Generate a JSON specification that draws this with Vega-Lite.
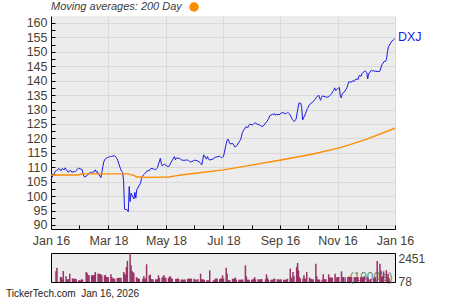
{
  "$schema": "https://vega.github.io/schema/vega-lite/v6.json",
  "background": "white",
  "padding": {"left": 5, "top": 2, "right": 5, "bottom": 0},
  "spacing": 4,
  "config": {
    "font": "Liberation Sans",
    "view": {"stroke": null},
    "axis": {"labelFont": "Liberation Sans", "labelColor": "#4a4030", "labelFontSize": 12.5, "tickColor": "#000000", "domainColor": "#000000", "gridColor": "#d9d9d9"}
  },
  "resolve": {"scale": {"x": "independent", "y": "independent", "color": "independent"}},
  "data": {
    "values": [
      {"d":"2025-01-16","c":105.6,"v":900},{"d":"2025-01-17","c":106.5,"v":1210},
      {"d":"2025-01-21","c":108.8,"v":420},{"d":"2025-01-22","c":108.9,"v":400},{"d":"2025-01-23","c":109.1,"v":230},{"d":"2025-01-24","c":109.6,"v":930},
      {"d":"2025-01-27","c":108.8,"v":480},{"d":"2025-01-28","c":109.6,"v":230},{"d":"2025-01-29","c":109.3,"v":220},{"d":"2025-01-30","c":109.1,"v":240},{"d":"2025-01-31","c":109.8,"v":705},
      {"d":"2025-02-03","c":108.3,"v":300},{"d":"2025-02-04","c":108.5,"v":280},{"d":"2025-02-05","c":108.7,"v":260},{"d":"2025-02-06","c":108.9,"v":280},{"d":"2025-02-07","c":108.3,"v":250},
      {"d":"2025-02-10","c":108.5,"v":150},{"d":"2025-02-11","c":108.5,"v":140},{"d":"2025-02-12","c":108.9,"v":120},{"d":"2025-02-13","c":109.4,"v":230},{"d":"2025-02-14","c":109.7,"v":200},
      {"d":"2025-02-18","c":109.2,"v":845},{"d":"2025-02-19","c":107.8,"v":760},{"d":"2025-02-20","c":106.8,"v":560},{"d":"2025-02-21","c":106.6,"v":600},
      {"d":"2025-02-24","c":107.3,"v":560},{"d":"2025-02-25","c":107.8,"v":580},{"d":"2025-02-26","c":108.1,"v":540},{"d":"2025-02-27","c":108.2,"v":620},{"d":"2025-02-28","c":108.1,"v":845},
      {"d":"2025-03-03","c":108.5,"v":700},{"d":"2025-03-04","c":109.1,"v":700},{"d":"2025-03-05","c":108.3,"v":650},{"d":"2025-03-06","c":108.6,"v":660},{"d":"2025-03-07","c":107.8,"v":580},
      {"d":"2025-03-10","c":106.4,"v":560},{"d":"2025-03-11","c":108.3,"v":600},{"d":"2025-03-12","c":110.2,"v":420},{"d":"2025-03-13","c":111.8,"v":400},{"d":"2025-03-14","c":112.7,"v":420},
      {"d":"2025-03-17","c":113.4,"v":650},{"d":"2025-03-18","c":113.5,"v":420},{"d":"2025-03-19","c":113.6,"v":280},{"d":"2025-03-20","c":113.7,"v":300},{"d":"2025-03-21","c":113.7,"v":280},
      {"d":"2025-03-24","c":114.0,"v":340},{"d":"2025-03-25","c":113.8,"v":330},{"d":"2025-03-26","c":113.5,"v":350},{"d":"2025-03-27","c":113.0,"v":340},{"d":"2025-03-28","c":112.2,"v":360},
      {"d":"2025-03-31","c":109.2,"v":845},{"d":"2025-04-01","c":108.6,"v":700},{"d":"2025-04-02","c":108.2,"v":600},{"d":"2025-04-03","c":105.5,"v":1270},{"d":"2025-04-04","c":95.5,"v":1780},
      {"d":"2025-04-07","c":95.2,"v":2451},{"d":"2025-04-08","c":94.6,"v":1410},{"d":"2025-04-09","c":103.3,"v":930},{"d":"2025-04-10","c":98.1,"v":845},{"d":"2025-04-11","c":101.0,"v":760},
      {"d":"2025-04-14","c":99.0,"v":420},{"d":"2025-04-15","c":101.3,"v":280},{"d":"2025-04-16","c":99.3,"v":300},{"d":"2025-04-17","c":102.2,"v":260},
      {"d":"2025-04-21","c":104.5,"v":280},{"d":"2025-04-22","c":106.0,"v":480},{"d":"2025-04-23","c":106.8,"v":300},{"d":"2025-04-24","c":107.3,"v":280},{"d":"2025-04-25","c":107.6,"v":1500},
      {"d":"2025-04-28","c":108.7,"v":565},{"d":"2025-04-29","c":108.9,"v":620},{"d":"2025-04-30","c":108.7,"v":250},{"d":"2025-05-01","c":109.2,"v":225},{"d":"2025-05-02","c":109.6,"v":230},
      {"d":"2025-05-05","c":109.4,"v":220},{"d":"2025-05-06","c":109.2,"v":225},{"d":"2025-05-07","c":109.1,"v":230},{"d":"2025-05-08","c":109.5,"v":565},{"d":"2025-05-09","c":109.9,"v":350},
      {"d":"2025-05-12","c":113.1,"v":350},{"d":"2025-05-13","c":111.4,"v":480},{"d":"2025-05-14","c":110.5,"v":560},{"d":"2025-05-15","c":110.7,"v":350},{"d":"2025-05-16","c":111.1,"v":360},
      {"d":"2025-05-19","c":110.4,"v":340},{"d":"2025-05-20","c":110.3,"v":460},{"d":"2025-05-21","c":110.2,"v":470},{"d":"2025-05-22","c":110.8,"v":280},{"d":"2025-05-23","c":111.5,"v":300},
      {"d":"2025-05-27","c":113.7,"v":280},{"d":"2025-05-28","c":112.6,"v":250},{"d":"2025-05-29","c":113.2,"v":300},{"d":"2025-05-30","c":113.2,"v":260},
      {"d":"2025-06-02","c":113.0,"v":200},{"d":"2025-06-03","c":112.6,"v":210},{"d":"2025-06-04","c":112.5,"v":190},{"d":"2025-06-05","c":112.4,"v":200},{"d":"2025-06-06","c":112.4,"v":210},
      {"d":"2025-06-09","c":112.5,"v":280},{"d":"2025-06-10","c":112.5,"v":260},{"d":"2025-06-11","c":112.3,"v":280},{"d":"2025-06-12","c":112.0,"v":300},{"d":"2025-06-13","c":111.8,"v":270},
      {"d":"2025-06-16","c":112.2,"v":280},{"d":"2025-06-17","c":112.4,"v":200},{"d":"2025-06-18","c":112.4,"v":210},{"d":"2025-06-20","c":112.3,"v":230},
      {"d":"2025-06-23","c":111.7,"v":705},{"d":"2025-06-24","c":111.2,"v":230},{"d":"2025-06-25","c":110.8,"v":220},{"d":"2025-06-26","c":112.5,"v":200},{"d":"2025-06-27","c":114.3,"v":200},
      {"d":"2025-06-30","c":112.8,"v":150},{"d":"2025-07-01","c":113.7,"v":140},{"d":"2025-07-02","c":113.0,"v":130},{"d":"2025-07-03","c":112.5,"v":990},
      {"d":"2025-07-07","c":112.8,"v":140},{"d":"2025-07-08","c":113.2,"v":140},{"d":"2025-07-09","c":113.4,"v":280},{"d":"2025-07-10","c":113.5,"v":280},{"d":"2025-07-11","c":113.6,"v":300},
      {"d":"2025-07-14","c":113.8,"v":250},{"d":"2025-07-15","c":113.5,"v":280},{"d":"2025-07-16","c":113.3,"v":300},{"d":"2025-07-17","c":113.5,"v":565},{"d":"2025-07-18","c":113.7,"v":300},
      {"d":"2025-07-21","c":118.3,"v":1210},{"d":"2025-07-22","c":119.5,"v":700},{"d":"2025-07-23","c":119.7,"v":150},{"d":"2025-07-24","c":118.8,"v":140},{"d":"2025-07-25","c":118.1,"v":140},
      {"d":"2025-07-28","c":118.2,"v":280},{"d":"2025-07-29","c":117.6,"v":250},{"d":"2025-07-30","c":117.0,"v":300},{"d":"2025-07-31","c":117.2,"v":370},{"d":"2025-08-01","c":117.4,"v":200},
      {"d":"2025-08-04","c":119.0,"v":180},{"d":"2025-08-05","c":119.5,"v":200},{"d":"2025-08-06","c":120.5,"v":200},{"d":"2025-08-07","c":122.0,"v":190},{"d":"2025-08-08","c":122.6,"v":210},
      {"d":"2025-08-11","c":124.1,"v":1410},{"d":"2025-08-12","c":123.8,"v":480},{"d":"2025-08-13","c":123.8,"v":200},{"d":"2025-08-14","c":124.6,"v":190},{"d":"2025-08-15","c":124.9,"v":200},
      {"d":"2025-08-18","c":124.7,"v":200},{"d":"2025-08-19","c":125.0,"v":225},{"d":"2025-08-20","c":125.3,"v":250},{"d":"2025-08-21","c":125.4,"v":420},{"d":"2025-08-22","c":125.0,"v":225},
      {"d":"2025-08-25","c":124.7,"v":225},{"d":"2025-08-26","c":124.5,"v":200},{"d":"2025-08-27","c":124.3,"v":225},{"d":"2025-08-28","c":124.1,"v":250},{"d":"2025-08-29","c":124.2,"v":225},
      {"d":"2025-09-02","c":125.8,"v":230},{"d":"2025-09-03","c":126.4,"v":650},{"d":"2025-09-04","c":126.8,"v":370},{"d":"2025-09-05","c":127.8,"v":200},
      {"d":"2025-09-08","c":128.4,"v":180},{"d":"2025-09-09","c":128.2,"v":200},{"d":"2025-09-10","c":128.6,"v":200},{"d":"2025-09-11","c":128.0,"v":280},{"d":"2025-09-12","c":128.3,"v":280},
      {"d":"2025-09-15","c":128.2,"v":230},{"d":"2025-09-16","c":128.4,"v":220},{"d":"2025-09-17","c":128.7,"v":200},{"d":"2025-09-18","c":128.9,"v":200},{"d":"2025-09-19","c":128.9,"v":230},
      {"d":"2025-09-22","c":128.5,"v":200},{"d":"2025-09-23","c":128.7,"v":190},{"d":"2025-09-24","c":129.0,"v":180},{"d":"2025-09-25","c":128.8,"v":200},{"d":"2025-09-26","c":128.5,"v":280},
      {"d":"2025-09-29","c":126.6,"v":1130},{"d":"2025-09-30","c":126.2,"v":370},{"d":"2025-10-01","c":125.8,"v":300},{"d":"2025-10-02","c":126.3,"v":845},{"d":"2025-10-03","c":126.6,"v":500},
      {"d":"2025-10-06","c":132.2,"v":1270},{"d":"2025-10-07","c":132.2,"v":1610},{"d":"2025-10-08","c":132.2,"v":990},{"d":"2025-10-09","c":130.6,"v":420},{"d":"2025-10-10","c":126.4,"v":280},
      {"d":"2025-10-13","c":128.5,"v":300},{"d":"2025-10-14","c":129.5,"v":565},{"d":"2025-10-15","c":130.3,"v":300},{"d":"2025-10-16","c":130.8,"v":280},{"d":"2025-10-17","c":131.6,"v":845},
      {"d":"2025-10-20","c":132.4,"v":370},{"d":"2025-10-21","c":132.7,"v":280},{"d":"2025-10-22","c":133.0,"v":250},{"d":"2025-10-23","c":133.5,"v":220},{"d":"2025-10-24","c":134.0,"v":230},
      {"d":"2025-10-27","c":135.0,"v":1550},{"d":"2025-10-28","c":134.0,"v":480},{"d":"2025-10-29","c":133.2,"v":200},{"d":"2025-10-30","c":134.2,"v":200},{"d":"2025-10-31","c":134.7,"v":200},
      {"d":"2025-11-03","c":134.4,"v":200},{"d":"2025-11-04","c":134.4,"v":650},{"d":"2025-11-05","c":134.2,"v":230},{"d":"2025-11-06","c":134.4,"v":225},{"d":"2025-11-07","c":134.5,"v":230},
      {"d":"2025-11-10","c":135.6,"v":650},{"d":"2025-11-11","c":136.2,"v":370},{"d":"2025-11-12","c":136.6,"v":370},{"d":"2025-11-13","c":137.5,"v":370},{"d":"2025-11-14","c":136.6,"v":370},
      {"d":"2025-11-17","c":137.4,"v":705},{"d":"2025-11-18","c":137.7,"v":370},{"d":"2025-11-19","c":134.5,"v":370},{"d":"2025-11-20","c":134.0,"v":420},{"d":"2025-11-21","c":135.5,"v":420},
      {"d":"2025-11-24","c":136.4,"v":900},{"d":"2025-11-25","c":137.0,"v":400},{"d":"2025-11-26","c":137.6,"v":420},{"d":"2025-11-28","c":139.6,"v":400},
      {"d":"2025-12-01","c":139.5,"v":420},{"d":"2025-12-02","c":140.0,"v":460},{"d":"2025-12-03","c":139.8,"v":420},{"d":"2025-12-04","c":139.8,"v":400},{"d":"2025-12-05","c":140.5,"v":420},
      {"d":"2025-12-08","c":140.5,"v":400},{"d":"2025-12-09","c":141.8,"v":420},{"d":"2025-12-10","c":141.7,"v":400},{"d":"2025-12-11","c":141.5,"v":380},{"d":"2025-12-12","c":142.4,"v":420},
      {"d":"2025-12-15","c":143.4,"v":400},{"d":"2025-12-16","c":143.2,"v":420},{"d":"2025-12-17","c":142.8,"v":400},{"d":"2025-12-18","c":140.6,"v":420},{"d":"2025-12-19","c":142.3,"v":500},
      {"d":"2025-12-22","c":143.6,"v":400},{"d":"2025-12-23","c":143.4,"v":350},{"d":"2025-12-24","c":143.4,"v":200},{"d":"2025-12-26","c":143.3,"v":250},
      {"d":"2025-12-29","c":143.1,"v":300},{"d":"2025-12-30","c":143.2,"v":400},{"d":"2025-12-31","c":143.3,"v":400},{"d":"2026-01-02","c":145.5,"v":1780},
      {"d":"2026-01-05","c":146.8,"v":1550},{"d":"2026-01-06","c":146.7,"v":990},{"d":"2026-01-07","c":147.4,"v":420},{"d":"2026-01-08","c":150.0,"v":500},{"d":"2026-01-09","c":151.6,"v":900},
      {"d":"2026-01-12","c":153.4,"v":1000},{"d":"2026-01-13","c":153.8,"v":420},{"d":"2026-01-14","c":154.0,"v":700},{"d":"2026-01-15","c":154.3,"v":300},{"d":"2026-01-16","c":154.7,"v":78}
    ],
    "format": {"parse": {"d": "date:'%Y-%m-%d'"}}
  },
  "vconcat": [
    {
      "width": 344,
      "height": 213,
      "view": {"fill": "#ececec", "stroke": null},
      "encoding": {
        "x": {
          "field": "d", "type": "temporal",
          "scale": {"domain": [{"year": 2025, "month": "jan", "date": 16}, {"year": 2026, "month": "jan", "date": 16}]},
          "axis": {
            "title": null,
            "values": [
              {"year": 2025, "month": "jan", "date": 16}, {"year": 2025, "month": "feb", "date": 15},
              {"year": 2025, "month": "mar", "date": 18}, {"year": 2025, "month": "apr", "date": 17},
              {"year": 2025, "month": "may", "date": 18}, {"year": 2025, "month": "jun", "date": 17},
              {"year": 2025, "month": "jul", "date": 18}, {"year": 2025, "month": "aug", "date": 17},
              {"year": 2025, "month": "sep", "date": 16}, {"year": 2025, "month": "oct", "date": 16},
              {"year": 2025, "month": "nov", "date": 16}, {"year": 2025, "month": "dec", "date": 16},
              {"year": 2026, "month": "jan", "date": 16}
            ],
            "format": "%b %d",
            "labelExpr": "month(datum.value) % 2 === 0 ? datum.label : ''",
            "gridOpacity": {"condition": {"test": "month(datum.value) % 2 === 0", "value": 1}, "value": 0},
            "grid": true,
            "tickSize": -4,
            "labelPadding": 9,
            "labelFlush": false,
            "labelOverlap": false
          }
        },
        "y": {
          "field": "c", "type": "quantitative",
          "scale": {"domain": [88.6, 162.4], "nice": false, "zero": false},
          "axis": {
            "title": null,
            "values": [90, 92.5, 95, 97.5, 100, 102.5, 105, 107.5, 110, 112.5, 115, 117.5, 120, 122.5, 125, 127.5, 130, 132.5, 135, 137.5, 140, 142.5, 145, 147.5, 150, 152.5, 155, 157.5, 160],
            "format": ".0f",
            "labelExpr": "datum.value % 5 === 0 ? datum.label : ''",
            "gridOpacity": {"condition": {"test": "datum.value % 5 === 0", "value": 1}, "value": 0},
            "grid": true,
            "tickSize": -4,
            "labelPadding": 8,
            "labelOverlap": false
          }
        }
      },
      "layer": [
        {
          "mark": {"type": "line", "color": "#1a1ae6", "strokeWidth": 1}
        },
        {
          "data": {
            "values": [
              {"d":"2025-01-16","c":107.3},{"d":"2025-02-14","c":107.3},{"d":"2025-02-18","c":107.7},{"d":"2025-04-08","c":107.7},
              {"d":"2025-04-14","c":107.2},{"d":"2025-04-17","c":106.6},{"d":"2025-05-02","c":106.5},{"d":"2025-05-21","c":106.6},
              {"d":"2025-05-28","c":107.0},{"d":"2025-06-05","c":107.4},{"d":"2025-06-25","c":108.2},{"d":"2025-07-18","c":109.1},
              {"d":"2025-08-18","c":110.8},{"d":"2025-09-17","c":112.5},{"d":"2025-10-20","c":114.5},{"d":"2025-11-20","c":116.9},
              {"d":"2025-12-15","c":119.5},{"d":"2026-01-16","c":123.5}
            ],
            "format": {"parse": {"d": "date:'%Y-%m-%d'"}}
          },
          "mark": {"type": "line", "strokeWidth": 1.4},
          "encoding": {
            "color": {
              "datum": "200 Day", "type": "nominal",
              "scale": {"range": ["#ff8c00"]},
              "legend": {
                "orient": "none", "legendX": 0, "legendY": -14,
                "title": "Moving averages: 200 Day",
                "titleOrient": "left",
                "titleFontStyle": "italic", "titleFontWeight": "normal", "titleFontSize": 11,
                "titleColor": "#3c3c3c", "titleFont": "Liberation Sans", "titlePadding": 7,
                "labelExpr": "''",
                "symbolType": "circle", "symbolSize": 90,
                "symbolFillColor": "#ff8c00", "symbolStrokeWidth": 0,
                "padding": 0,
                "encode": {"symbols": {"update": {"fill": {"value": "#ff8c00"}, "stroke": {"value": "#ff8c00"}, "strokeWidth": {"value": 0}}}}
              }
            }
          }
        },
        {
          "mark": {"type": "text", "align": "left", "baseline": "middle", "dx": 3, "dy": -1, "color": "#1a1ae6", "fontSize": 12.5, "font": "Liberation Sans"},
          "encoding": {
            "x": {"field": "d", "type": "temporal", "aggregate": "max"},
            "y": {"field": "c", "type": "quantitative", "aggregate": {"argmax": "d"}},
            "text": {"value": "DXJ"}
          }
        }
      ]
    },
    {
      "width": 344,
      "height": 29,
      "view": {"fill": "#ececec", "stroke": "#000000", "strokeWidth": 1},
      "title": {
        "text": "TickerTech.com\u00a0\u00a0Jan 16, 2026",
        "orient": "bottom", "anchor": "start", "frame": "group",
        "dx": -45, "offset": 2, "fontSize": 10, "fontWeight": "normal",
        "color": "#1a1a1a", "font": "Liberation Sans"
      },
      "mark": {"type": "bar", "color": "#993366", "size": 1.5},
      "encoding": {
        "x": {
          "field": "d", "type": "temporal",
          "scale": {"domain": [{"year": 2025, "month": "jan", "date": 16}, {"year": 2026, "month": "jan", "date": 16}]},
          "axis": null
        },
        "y": {
          "field": "v", "type": "quantitative",
          "scale": {"domain": [0, 2451], "nice": false},
          "axis": {
            "orient": "right",
            "values": [78, 2451],
            "format": "d",
            "domain": false, "ticks": false, "grid": false,
            "labelPadding": 3, "labelFontSize": 12,
            "labelBaseline": {"condition": {"test": "datum.value > 1000", "value": "top"}, "value": "middle"},
            "title": "(1000's)",
            "titleAngle": 0, "titleAlign": "right", "titleBaseline": "alphabetic",
            "titleX": -3, "titleY": 27,
            "titleColor": "#5e8c6a", "titleFontWeight": "normal", "titleFontSize": 12, "titleFont": "Liberation Sans"
          }
        }
      }
    }
  ]
}
